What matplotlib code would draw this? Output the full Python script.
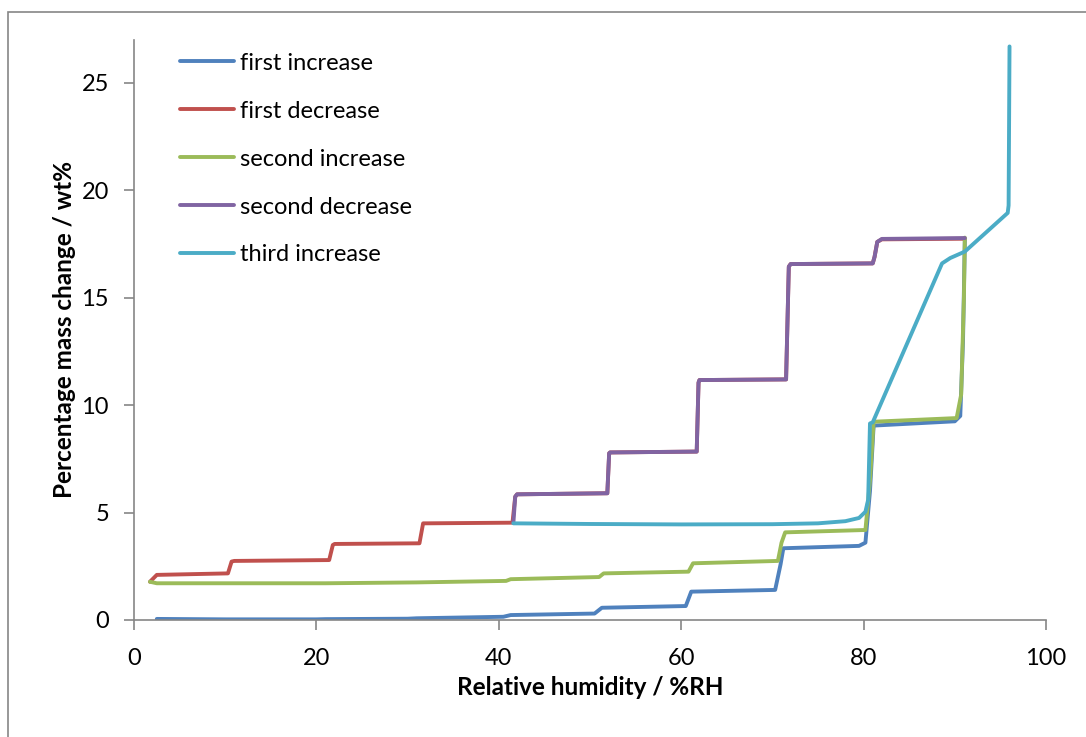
import numpy as np
import matplotlib.pyplot as plt
from matplotlib.patches import Rectangle

plt.rcParams['font.family'] = ['Lato', 'DejaVu Sans']

# first increase (blue)
rh_inc1 = [2.5, 10, 11, 20, 21, 30, 31, 40.5, 41.3, 50.5, 51.3, 60.5, 61.1, 70.3, 70.9, 71.2, 79.5, 80.2, 80.7, 81.1, 90.0, 90.6, 90.9, 91.1]
wt_inc1 = [0.05, 0.03, 0.03, 0.03, 0.04, 0.06, 0.08, 0.15, 0.23, 0.3, 0.57, 0.65, 1.32, 1.4, 2.6, 3.34, 3.45, 3.6, 6.0, 9.05, 9.25, 9.5, 13.0, 17.7]

# first decrease (red)
rh_dec1 = [91.1, 82.0, 81.5, 81.2, 81.0, 72.0, 71.8, 71.5, 62.0, 61.9, 61.7, 52.2, 52.1, 51.9, 42.0, 41.8, 41.5, 32.0, 31.7, 31.3, 22.0, 21.8, 21.4, 11.0, 10.7, 10.3, 2.5, 1.75]
wt_dec1 = [17.75, 17.72, 17.6, 16.9, 16.6, 16.57, 16.45, 11.2, 11.17, 11.05, 7.84, 7.8, 7.76, 5.9, 5.85, 5.74, 4.53, 4.5, 4.5, 3.57, 3.54, 3.49, 2.79, 2.75, 2.72, 2.17, 2.1, 1.78]

# second increase (green)
rh_inc2 = [1.75, 2.5, 11, 21, 31, 40.8, 41.3, 51.0, 51.5, 60.8, 61.3, 70.6, 71.0, 71.4, 80.2, 80.7, 81.1, 90.2, 90.7, 91.0, 91.1]
wt_inc2 = [1.78, 1.71, 1.71, 1.71, 1.75, 1.82, 1.9, 2.0, 2.17, 2.25, 2.64, 2.75, 3.6, 4.08, 4.19, 6.5, 9.23, 9.4, 10.5, 15.0, 17.8]

# second decrease (purple)
rh_dec2 = [91.1, 82.0, 81.5, 81.2, 81.0, 72.0, 71.8, 71.5, 62.0, 61.9, 61.7, 52.2, 52.1, 51.9, 42.0, 41.8, 41.6]
wt_dec2 = [17.78, 17.74, 17.6, 16.9, 16.6, 16.57, 16.45, 11.2, 11.17, 11.05, 7.84, 7.8, 7.76, 5.9, 5.85, 5.74, 4.52]

# third increase (cyan)
rh_inc3 = [41.6, 50, 60, 70, 75, 78, 79.5, 80.2, 80.5, 80.7, 81.0, 88.6, 89.5, 91.1, 95.8, 95.9, 96.0]
wt_inc3 = [4.5, 4.47, 4.45, 4.46, 4.5, 4.6, 4.75, 5.04, 5.6, 9.15, 9.2, 16.6, 16.85, 17.15, 18.95, 19.3, 26.7]

labels = ['first increase', 'first decrease', 'second increase', 'second decrease', 'third increase']
colors = ['#4F81BD', '#C0504D', '#9BBB59', '#8064A2', '#4BACC6']
series = [(rh_inc1, wt_inc1), (rh_dec1, wt_dec1), (rh_inc2, wt_inc2), (rh_dec2, wt_dec2), (rh_inc3, wt_inc3)]

fig = plt.figure(figsize=(10.86, 7.37), dpi=100)
ax = fig.add_axes([134/1086, 117/737, 912/1086, 580/737])

for (x, y), c, lab in zip(series, colors, labels):
    ax.plot(x, y, color=c, lw=2.8, label=lab, solid_joinstyle='round', solid_capstyle='round')

ax.set_xlim(0, 100)
ax.set_ylim(0, 27)
ax.set_xticks(np.arange(0, 101, 20))
ax.set_yticks(np.arange(0, 26, 5))
for s in ['top', 'right']:
    ax.spines[s].set_visible(False)
for s in ['left', 'bottom']:
    ax.spines[s].set_color('#868686')
    ax.spines[s].set_linewidth(1.2)
ax.tick_params(direction='out', length=7, width=1.2, color='#868686', labelsize=17)
ax.tick_params(axis='x', pad=13)
ax.tick_params(axis='y', pad=11)

ax.set_xlabel('Relative humidity / %RH', fontsize=17.5, fontweight='bold', labelpad=5)
ax.set_ylabel('Percentage mass change / wt%', fontsize=17.5, fontweight='bold', labelpad=4)

ax.legend(loc='upper left', bbox_to_anchor=(0.05, 0.978), frameon=False, fontsize=17,
          handlelength=2.3, handletextpad=0.25, labelspacing=1.14, borderpad=0, borderaxespad=0)

fig.patches.append(Rectangle((8/1086, -0.1), 1.2, (737-12)/737 + 0.1, transform=fig.transFigure,
                             fill=False, edgecolor='#868686', lw=1.2))

fig.savefig('out.png', dpi=100)
